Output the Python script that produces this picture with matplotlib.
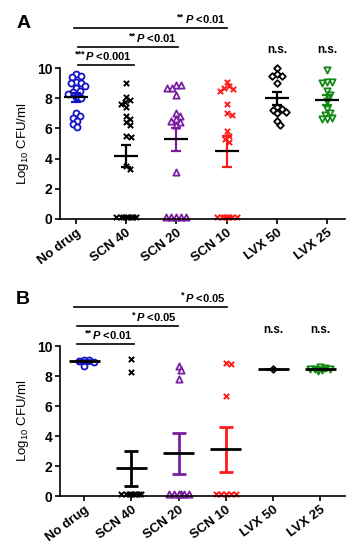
import numpy as np
import matplotlib
matplotlib.use("Agg")
import matplotlib.pyplot as plt

plt.rcParams["font.family"] = ["Liberation Sans", "DejaVu Sans"]
plt.rcParams["mathtext.fontset"] = "custom"
plt.rcParams["mathtext.rm"] = "Liberation Sans:bold"
plt.rcParams["mathtext.it"] = "Liberation Sans:italic:bold"
plt.rcParams["mathtext.bf"] = "Liberation Sans:bold"

# ---- data ----
groups = ["No drug", "SCN 40", "SCN 20", "SCN 10", "LVX 50", "LVX 25"]

# panel A: log10 CFU/ml per animal
a_nodrug = [9.6, 9.5, 9.4, 9.1, 9.0, 9.0, 8.8, 8.7, 8.5, 8.4, 8.3, 8.1, 8.0,
            7.0, 6.8, 6.7, 6.5, 6.3, 6.1]
a_scn40 = [9.0, 8.1, 7.9, 7.75, 7.6, 7.4, 6.8, 6.6, 6.4, 6.2, 5.5, 5.4, 3.5, 3.3,
           0.15, 0.15, 0.15, 0.15, 0.15, 0.15, 0.15, 0.15]
a_scn20 = [8.9, 8.85, 8.7, 8.7, 8.2, 7.0, 6.8, 6.6, 6.5, 6.4, 6.2, 3.1,
           0.15, 0.15, 0.15, 0.15, 0.15]
a_scn10 = [9.1, 8.8, 8.7, 8.6, 8.5, 7.6, 7.0, 6.9, 5.8, 5.5, 5.3, 5.1,
           0.15, 0.15, 0.15, 0.15, 0.15, 0.15, 0.15]
a_lvx50 = [10.0, 9.6, 9.5, 9.5, 9.0, 7.4, 7.3, 7.2, 7.1, 7.0, 6.5, 6.2]
a_lvx25 = [9.9, 9.1, 9.1, 9.0, 8.5, 8.2, 7.8, 7.3, 7.0, 6.9, 6.7, 6.6, 6.6]
a_means = [8.07, 4.2, 5.27, 4.49, 8.0, 7.87]
a_sems = [0.3, 0.73, 0.78, 1.03, 0.42, 0.35]
a_sig_stars = ["***", "**", "**"]
a_sig_p = ["<0.001", "<0.01", "<0.01"]

# panel B
b_nodrug = [9.1, 9.1, 9.0, 8.95, 8.7]
b_scn40 = [9.15, 8.25, 0.15, 0.15, 0.15, 0.15, 0.15, 0.15, 0.15, 0.15]
b_scn20 = [8.7, 8.4, 7.8, 0.15, 0.15, 0.15, 0.15, 0.15, 0.15]
b_scn10 = [8.9, 8.8, 6.7, 0.15, 0.15, 0.15, 0.15, 0.15]
b_lvx50 = [8.45]
b_lvx25 = [8.6, 8.55, 8.5, 8.5, 8.45, 8.4, 8.35]
b_means = [8.98, 1.84, 2.84, 3.13, 8.45, 8.48]
b_sems = [0.08, 1.17, 1.36, 1.5, 0.0, 0.1]
b_sig_stars = ["**", "*", "*"]
b_sig_p = ["<0.01", "<0.05", "<0.05"]

ns_groups = [4, 5]

# ---- styles ----
colors = ["#1414c8", "black", "#7a1fa0", "#ff1a1a", "black", "#128a12"]
markers = ["o", "x", "^", "x", "D", "v"]
msizes = [4.3, 3.8, 4.5, 3.8, 3.4, 4.5]


def swarm(vals, px_x, px_y, d, max_px):
    """beeswarm offsets (data units); width is capped, overlap allowed there"""
    order = np.argsort(vals)[::-1]
    placed = []
    offs = np.zeros(len(vals))
    cands = [0.0]
    k = 1
    while k * 0.5 <= max_px:
        cands += [k * 0.5, -k * 0.5]
        k += 1
    for i in order:
        y = vals[i] * px_y
        best, best_gap = 0.0, -1
        for c in cands:
            gap = min([np.hypot(c - px, y - py) for px, py in placed] or [99])
            if gap >= d:
                best = c
                break
            if gap > best_gap + 1e-9:
                best, best_gap = c, gap
        placed.append((best, y))
        offs[i] = best / px_x
    return offs


def draw_panel(ax, data, means, sems, stars, pvals, sig_pos, ns_y, px_x, px_y,
               xlim, mean_hw, cap, lw):
    for i, vals in enumerate(data):
        vals = np.array(vals)
        off = swarm(vals, px_x, px_y, 5.0, 12)
        x = i + off
        if markers[i] == "x":
            ax.scatter(x, vals, marker="x", s=msizes[i] ** 2, color=colors[i],
                       linewidths=1.4, zorder=2, clip_on=False)
        else:
            ax.scatter(x, vals, marker=markers[i], s=msizes[i] ** 2,
                       facecolors="white", edgecolors=colors[i],
                       linewidths=1.3, zorder=2, clip_on=False)
        ax.errorbar(i, means[i], yerr=sems[i], fmt="none", ecolor=colors[i],
                    elinewidth=lw, capsize=cap, capthick=lw, zorder=3)
        ax.hlines(means[i], i - mean_hw, i + mean_hw, color="black", lw=lw,
                  zorder=4)

    for (x0, x1, y), st, p in zip(sig_pos, stars, pvals):
        ax.plot([x0, x1], [y, y], color="black", lw=1.2, clip_on=False)
        t = ax.text(x1 - 0.03, y + 0.2, r"$\mathit{P}$ %s" % p,
                    ha="right", va="bottom", fontsize=8, fontweight="bold")
        ax.annotate(st, xy=(0, 1), xycoords=t, xytext=(-0.3, 0.5),
                    textcoords="offset points", ha="right", va="top",
                    fontsize=6.5, fontweight="bold")
    for g in ns_groups:
        ax.text(g, ns_y, "n.s.", ha="center", va="center", fontsize=8.5,
                fontweight="bold")

    ax.set_xlim(*xlim)
    ax.set_ylim(0, 10)
    ax.set_yticks([0, 2, 4, 6, 8, 10])
    ax.set_xticks(range(len(groups)))
    ax.set_xticklabels(groups, rotation=37, ha="right", rotation_mode="anchor",
                       fontsize=9.5, fontweight="bold")
    for lab in ax.get_yticklabels():
        lab.set_fontweight("bold")
        lab.set_fontsize(10)
    ax.spines["top"].set_visible(False)
    ax.spines["right"].set_visible(False)
    for s in ["left", "bottom"]:
        ax.spines[s].set_linewidth(1.2)
    ax.tick_params(width=1.2, length=3.5, pad=2)
    ax.set_ylabel(r"Log$_{\mathregular{10}}$ CFU/ml", fontsize=9.5)
    ax.yaxis.set_label_coords(-0.10, 0.5)


fig = plt.figure(figsize=(3.53, 5.5), dpi=100)
ax_a = fig.add_axes([60 / 353, 1 - 219 / 550, 285 / 353, 151 / 550])
ax_b = fig.add_axes([60 / 353, 1 - 496 / 550, 285 / 353, 150 / 550])

draw_panel(ax_a, [a_nodrug, a_scn40, a_scn20, a_scn10, a_lvx50, a_lvx25],
           a_means, a_sems, a_sig_stars, a_sig_p,
           [(0.04, 1.15, 10.2), (0.04, 2.04, 11.4), (-0.03, 3.0, 12.63)],
           11.2, 50.3, 15.1, (-0.31, 5.35), 0.24, 3.5, 1.6)
draw_panel(ax_b, [b_nodrug, b_scn40, b_scn20, b_scn10, b_lvx50, b_lvx25],
           b_means, b_sems, b_sig_stars, b_sig_p,
           [(-0.15, 1.06, 10.13), (-0.15, 1.99, 11.33), (-0.21, 3.02, 12.62)],
           11.07, 47.3, 15.0, (-0.51, 5.52), 0.33, 5.0, 2.0)

fig.text(24 / 353, 1 - 23 / 550, "A", fontsize=14, fontweight="bold",
         ha="center", va="center")
fig.text(23 / 353, 1 - 300 / 550, "B", fontsize=14, fontweight="bold",
         ha="center", va="center")

fig.savefig("out.png", dpi=100)
